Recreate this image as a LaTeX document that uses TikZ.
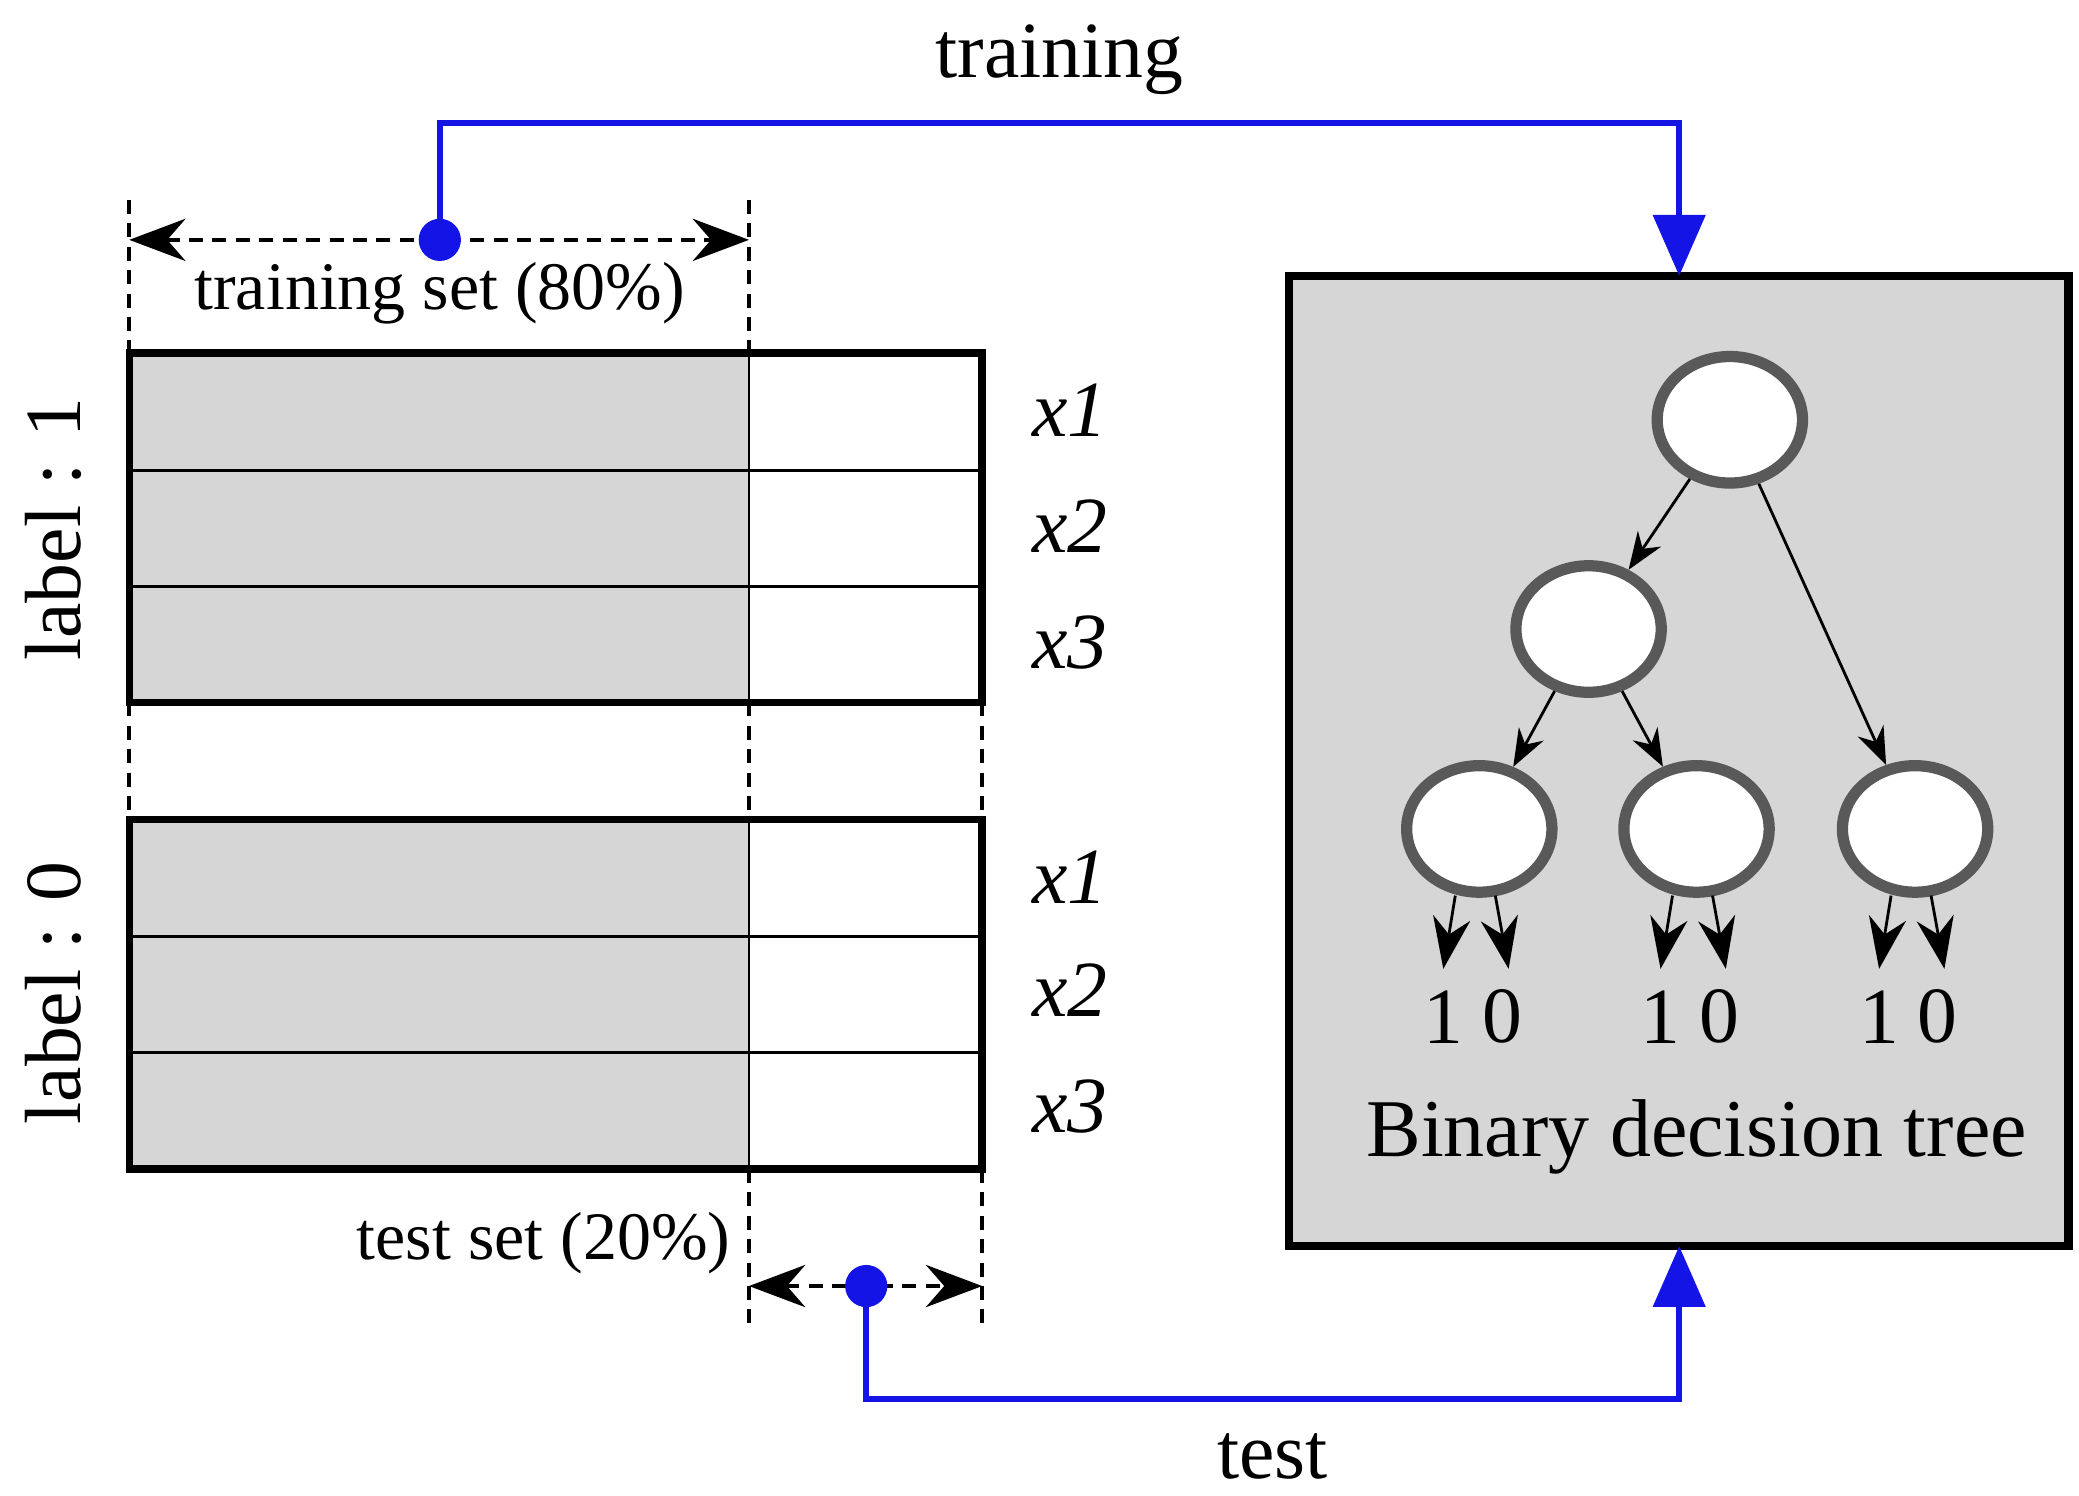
\documentclass[tikz,border=0pt]{standalone}
\usepackage{fontspec}
\setmainfont{Liberation Serif}
\usetikzlibrary{arrows.meta,shapes.geometric}
\begin{document}
\begin{tikzpicture}[x=0.01cm,y=-0.01cm,
  tbl/.style={line width=1.6pt},
  row/.style={line width=0.6pt},
  dsh/.style={densely dashed,line width=0.9pt},
  dar/.style={dsh,{Stealth[length=12pt,width=9pt]}-{Stealth[length=12pt,width=9pt]}},
  blu/.style={draw={rgb,255:red,20;green,20;blue,230},line width=1.3pt},
  bar/.style={blu,-{Triangle[length=13pt,width=11pt]}},
  dot/.style={circle,fill={rgb,255:red,20;green,20;blue,230},inner sep=0pt,minimum size=9pt},
  nd/.style={ellipse,draw=black!65,line width=2.4pt,fill=white,minimum width=31pt,minimum height=27pt},
  ta/.style={-{Stealth[length=8pt,width=6pt]},line width=0.6pt},
  la/.style={-{Stealth[length=11pt,width=8pt]},line width=0.6pt},
  f/.style={font=\fontsize{17}{18}\selectfont},
  fs/.style={font=\fontsize{14.5}{15}\selectfont},
  fx/.style={font=\fontsize{17}{18}\selectfont\itshape}]
\useasboundingbox (0,0) rectangle (1560,1122);
% tables
\foreach \t in {265,615}{
  \fill[black!16] (97,\t) rectangle (562,\t+262);
  \draw[row] (97,\t+88) -- (737,\t+88) (97,\t+175) -- (737,\t+175) (562,\t) -- (562,\t+262);
  \draw[tbl] (97,\t) rectangle (737,\t+262);
}
\node[fx] (x11) at (803,308) {x1};
\node[fx] (x12) at (803,395) {x2};
\node[fx] (x13) at (803,482) {x3};
\node[fx] (x01) at (803,658) {x1};
\node[fx] (x02) at (803,743) {x2};
\node[fx] (x03) at (803,830) {x3};
\node[f,rotate=90] (l1) at (40,397) {label : 1};
\node[f,rotate=90] (l0) at (40,745) {label : 0};
% dashed guides
\draw[dsh] (97,150) -- (97,265) (97,527) -- (97,615)
  (562,150) -- (562,265) (562,527) -- (562,615) (562,877) -- (562,995)
  (737,527) -- (737,615) (737,877) -- (737,995);
\coordinate (a1) at (97,180); \coordinate (a2) at (562,180);
\coordinate (b1) at (562,965); \coordinate (b2) at (737,965);
\draw[dar] (a1) -- (a2);
\draw[dar] (b1) -- (b2);
\node[fs] (trs) at (330,220) {training set (80\%)};
\node[fs] (tes) at (408,933) {test set (20\%)};
% box
\fill[black!16] (967,207) rectangle (1552,935);
\draw[line width=1.8pt] (967,207) rectangle (1552,935);
\coordinate (bt) at (1260,207); \coordinate (bb) at (1260,935);
% blue connections
\node[dot] (d1) at (330,180) {};
\node[dot] (d2) at (650,965) {};
\draw[bar] (d1.center) -- (330,92) -- (1260,92) -- (bt);
\draw[bar] (d2.center) -- (650,1050) -- (1260,1050) -- (bb);
\node[f] (tr) at (795,45) {training};
\node[f] (te) at (955,1093) {test};
% tree
\node[nd] (r) at (1298,315) {};
\node[nd] (m) at (1192,472) {};
\node[nd] (n1) at (1110,622) {};
\node[nd] (n2) at (1273,622) {};
\node[nd] (n3) at (1437,622) {};
\draw[ta] (r) -- (m); \draw[ta] (r) -- (n3);
\draw[ta] (m) -- (n1); \draw[ta] (m) -- (n2);
\foreach \n/\x in {n1/1110,n2/1273,n3/1437}{
  \node[f] (\n a) at (\x-27,763) {1};
  \node[f] (\n b) at (\x+17,763) {0};
  \coordinate (\n p) at (\x-18,672);
  \coordinate (\n q) at (\x+12,672);
  \draw[la] (\n p) -- (\x-27,727);
  \draw[la] (\n q) -- (\x+22,727);
}
\node[font=\fontsize{17.5}{18}\selectfont] (bdt) at (1273,853) {Binary decision tree};
\end{tikzpicture}
\end{document}
